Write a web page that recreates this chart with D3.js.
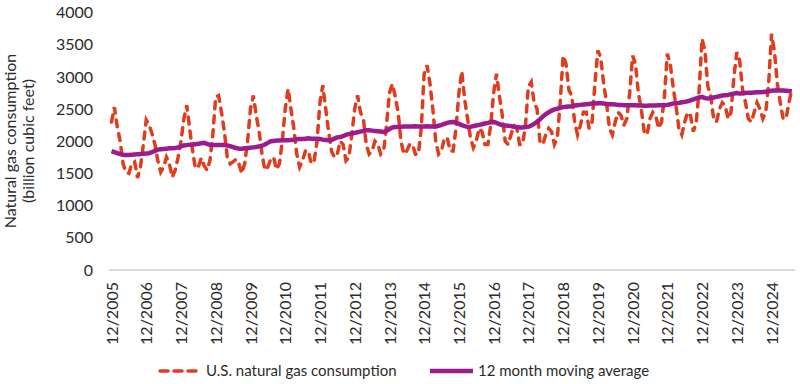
<!DOCTYPE html>
<html>
<head>
<meta charset="utf-8">
<script src="https://cdn.jsdelivr.net/npm/d3@7"></script>
<style>
  body { margin: 0; background: #fff; }
  svg { display: block; }
  text { font-family: Lato, "Open Sans", sans-serif; fill: #2b2b2b; }
</style>
</head>
<body>
<svg class="chart-svg" width="800" height="384"></svg>
<script>
// monthly values, first point = 12/2005
const tickLabels = ["12/2005","12/2006","12/2007","12/2008","12/2009","12/2010","12/2011","12/2012","12/2013","12/2014",
  "12/2015","12/2016","12/2017","12/2018","12/2019","12/2020","12/2021","12/2022","12/2023","12/2024"];
const yTicks = [0, 500, 1000, 1500, 2000, 2500, 3000, 3500, 4000];

const consumption = [
  2300, 2530, 2220, 2000, 1650, 1520, 1500, 1650, 1680, 1430, 1600, 1950,
  2330, 2250, 2120, 1950, 1700, 1520, 1600, 1750, 1650, 1440, 1550, 1750,
  2000, 2350, 2560, 2200, 1850, 1580, 1600, 1740, 1620, 1550, 1700, 2100,
  2690, 2710, 2450, 2150, 1750, 1650, 1680, 1720, 1650, 1500, 1650, 2000,
  2500, 2712, 2400, 2150, 1800, 1550, 1600, 1720, 1750, 1560, 1650, 2000,
  2500, 2815, 2500, 2200, 1800, 1600, 1700, 1850, 1850, 1650, 1700, 2000,
  2600, 2870, 2500, 2150, 1850, 1750, 1800, 2000, 1950, 1700, 1750, 2100,
  2500, 2712, 2450, 2350, 1950, 1800, 1850, 2000, 1950, 1800, 1850, 2250,
  2750, 2890, 2700, 2450, 2000, 1800, 1850, 1950, 1950, 1800, 1800, 2200,
  3050, 3180, 2900, 2500, 2000, 1800, 1850, 2050, 2050, 1850, 1850, 2200,
  2750, 3090, 2650, 2350, 2050, 1900, 2000, 2200, 2150, 1950, 1950, 2250,
  2750, 3050, 2700, 2400, 2000, 1950, 2100, 2250, 2200, 1950, 1950, 2250,
  2850, 2920, 2600, 2500, 2000, 1950, 2100, 2200, 2150, 1950, 2050, 2600,
  3330, 3200, 2800, 2700, 2300, 2100, 2250, 2450, 2450, 2200, 2300, 2900,
  3410, 3300, 2900, 2600, 2200, 2100, 2300, 2450, 2400, 2250, 2350, 2750,
  3330, 3200, 2750, 2500, 2150, 2100, 2350, 2450, 2400, 2200, 2300, 2700,
  3360, 3200, 2850, 2550, 2200, 2100, 2300, 2450, 2400, 2150, 2300, 2800,
  3590, 3400, 2850, 2700, 2350, 2300, 2500, 2600, 2550, 2350, 2450, 3000,
  3385, 3250, 2800, 2600, 2350, 2300, 2450, 2600, 2500, 2350, 2450, 2900,
  3670, 3400, 2900, 2600, 2350, 2350, 2600, 2800
];

const movingAverage = [
  1845, 1830, 1815, 1800, 1790, 1785, 1785, 1790, 1795, 1800, 1800, 1805,
  1810, 1815, 1830, 1850, 1870, 1875, 1880, 1885, 1890, 1890, 1895, 1905,
  1920, 1935, 1940, 1945, 1950, 1955, 1960, 1970, 1975, 1960, 1945, 1940,
  1940, 1940, 1940, 1940, 1935, 1925, 1910, 1895, 1885, 1885, 1890, 1895,
  1900, 1905, 1910, 1920, 1930, 1950, 1975, 2000, 2005, 2010, 2010, 2015,
  2015, 2015, 2020, 2025, 2030, 2035, 2035, 2040, 2045, 2040, 2040, 2040,
  2035, 2025, 2020, 2015, 2020, 2040, 2060, 2065, 2080, 2100, 2110, 2120,
  2130, 2140, 2150, 2160, 2170, 2170, 2165, 2160, 2155, 2150, 2145, 2160,
  2190, 2215, 2220, 2222, 2225, 2228, 2230, 2230, 2230, 2232, 2230, 2230,
  2230, 2232, 2230, 2228, 2230, 2240, 2255, 2270, 2285, 2295, 2300, 2290,
  2270, 2250, 2235, 2222, 2225, 2235, 2245, 2255, 2265, 2275, 2285, 2295,
  2300, 2285, 2265, 2250, 2245, 2240, 2235, 2225, 2220, 2215, 2215, 2220,
  2225, 2245, 2270, 2300, 2340, 2385, 2420, 2450, 2475, 2495, 2505, 2520,
  2530, 2535, 2540, 2545, 2555, 2560, 2565, 2570, 2575, 2580, 2585, 2588,
  2590, 2590, 2585, 2580, 2575, 2575, 2570, 2565, 2565, 2560, 2560, 2560,
  2560, 2558, 2555, 2555, 2550, 2552, 2555, 2555, 2555, 2558, 2560, 2560,
  2565, 2575, 2585, 2590, 2595, 2605, 2612, 2620, 2635, 2650, 2665, 2680,
  2690, 2670, 2665, 2670, 2680, 2690, 2700, 2710, 2715, 2720, 2730, 2740,
  2750, 2740, 2745, 2750, 2752, 2755, 2758, 2760, 2762, 2765, 2770, 2775,
  2785, 2790, 2792, 2790, 2788, 2785, 2780, 2775
];

const dashColor = "#e03c1e";
const avgColor = "#9e1b8c";
const font = "Lato, 'Open Sans', sans-serif";

const svg = d3.select(".chart-svg");

const x = d3.scaleLinear()
    .domain([0, consumption.length - 1])
    .range([111.5, 791.8]);
const y = d3.scaleLinear()
    .domain([0, 4000])
    .range([270, 12.5]);

// baseline
svg.append("line")
    .attr("x1", 109).attr("x2", 795)
    .attr("y1", y(0)).attr("y2", y(0))
    .attr("stroke", "#d0d0d0").attr("stroke-width", 1.5);

// y axis
const yAxis = svg.append("g")
    .attr("transform", "translate(93,0)")
    .call(d3.axisLeft(y).tickValues(yTicks).tickFormat(d3.format("d")).tickSize(0).tickPadding(0));
yAxis.select(".domain").remove();
yAxis.selectAll("text").style("font-size", "16px").style("font-family", font).attr("fill", "#2b2b2b");

// x axis labels
const xAxis = svg.append("g")
    .attr("transform", `translate(0,${y(0)})`)
    .call(d3.axisBottom(x)
        .tickValues(tickLabels.map((d, i) => i * 12))
        .tickFormat((d, i) => tickLabels[i])
        .tickSize(0));
xAxis.select(".domain").remove();
xAxis.selectAll("text")
    .style("font-size", "16px")
    .style("font-family", font)
    .attr("fill", "#2b2b2b")
    .attr("text-anchor", "end")
    .attr("dy", "0.35em")
    .attr("transform", "translate(0,12) rotate(-90)")
    .attr("y", 0).attr("x", 0);

// y title
svg.append("text")
    .attr("transform", "translate(16,141) rotate(-90)")
    .attr("text-anchor", "middle")
    .style("font-size", "16px")
    .text("Natural gas consumption");
svg.append("text")
    .attr("transform", "translate(34,141) rotate(-90)")
    .attr("text-anchor", "middle")
    .style("font-size", "16px")
    .text("(billion cubic feet)");

const line = d3.line()
    .x((d, i) => x(i))
    .y(d => y(d));

svg.append("path")
    .datum(consumption)
    .attr("fill", "none")
    .attr("stroke", dashColor)
    .attr("stroke-width", 3.5)
    .attr("stroke-linecap", "round")
    .attr("stroke-dasharray", "7,7")
    .attr("d", line);

svg.append("path")
    .datum(movingAverage)
    .attr("fill", "none")
    .attr("stroke", avgColor)
    .attr("stroke-width", 4.5)
    .attr("stroke-linejoin", "round")
    .attr("d", line);

// legend
const legend = svg.append("g").attr("transform", "translate(0,371)");
legend.append("line")
    .attr("x1", 160).attr("x2", 200).attr("y1", 0).attr("y2", 0)
    .attr("stroke", dashColor).attr("stroke-width", 3.5)
    .attr("stroke-linecap", "round").attr("stroke-dasharray", "8,6");
legend.append("text")
    .attr("x", 206).attr("y", 0).attr("dy", "0.35em")
    .style("font-size", "15px")
    .text("U.S. natural gas consumption");
legend.append("line")
    .attr("x1", 430).attr("x2", 473).attr("y1", 0).attr("y2", 0)
    .attr("stroke", avgColor).attr("stroke-width", 4.5);
legend.append("text")
    .attr("x", 478).attr("y", 0).attr("dy", "0.35em")
    .style("font-size", "15px")
    .text("12 month moving average");
</script>
</body>
</html>
